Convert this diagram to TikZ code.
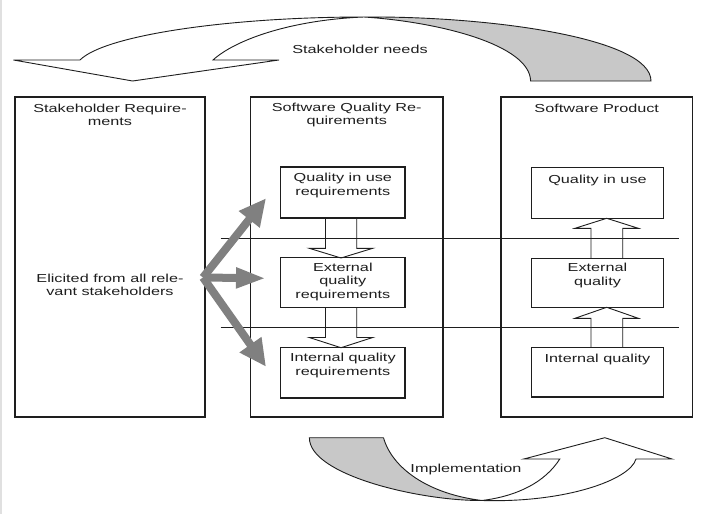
\documentclass[tikz,border=0pt]{standalone}
\usepackage{fontspec}
\setmainfont{Liberation Sans}[FakeStretch=1.4]
\usetikzlibrary{arrows.meta}
\definecolor{fangray}{RGB}{128,128,128}
\definecolor{ribbongray}{RGB}{200,200,200}
\definecolor{ink}{RGB}{30,30,30}
\begin{document}
\begin{tikzpicture}[x=1pt,y=-1pt,
  box/.style={draw=ink,line width=1.1pt,inner sep=0pt,outer sep=0pt},
  lbl/.style={font=\fontsize{11.6}{13.5}\selectfont,align=center,inner sep=0pt,text=ink},
  hollow/.style={draw=ink,line width=0.9pt,line join=miter},
  sepline/.style={draw=ink,line width=0.9pt},
  ribbon/.style={draw=ink,line width=0.9pt,line join=miter},
  fanline/.style={draw=fangray,line width=8pt,line cap=butt}]
\fill[white] (0,0) rectangle (705,514);
\useasboundingbox (0,0) rectangle (705,514);
\draw[black!12,line width=1.5pt] (1.2,0) -- (1.2,514);

% main columns
\node[box,minimum width=190pt,minimum height=320pt] (sr) at (110,257) {};
\node[box,minimum width=192.5pt,minimum height=320pt] (sq) at (346.75,257) {};
\node[box,minimum width=191.5pt,minimum height=320pt] (sp) at (596.75,257) {};

% inner boxes, middle column
\node[box,minimum width=124.3pt,minimum height=51pt] (qiur) at (342.85,192.5) {};
\node[box,minimum width=124.3pt,minimum height=50pt] (eqr) at (342.85,282.7) {};
\node[box,minimum width=124.3pt,minimum height=50.3pt] (iqr) at (342.85,372.85) {};
% inner boxes, right column
\node[box,minimum width=131.6pt,minimum height=51pt] (qiu) at (597.5,192.8) {};
\node[box,minimum width=131.6pt,minimum height=49pt] (eq) at (597.5,282.8) {};
\node[box,minimum width=131.6pt,minimum height=49.3pt] (iq) at (597.5,372.35) {};

% separator lines
\coordinate (s1a) at (220.7,238.3); \coordinate (s1b) at (679,238.3);
\coordinate (s2a) at (220.7,327.3); \coordinate (s2b) at (679,327.3);
\draw[sepline] (s1a) -- (s1b);
\draw[sepline] (s2a) -- (s2b);

% hollow arrows, middle column (downwards)
\draw[hollow] (325.5,218) -- (325.5,248.3) -- (309.3,248.3) -- (341,258) -- (372.7,248.3) -- (356.7,248.3) -- (356.7,218);
\draw[hollow] (325.5,307.7) -- (325.5,337.5) -- (309.3,337.5) -- (341,347.7) -- (372.7,337.5) -- (356.7,337.5) -- (356.7,307.7);
% hollow arrows, right column (upwards)
\draw[hollow] (591,258.3) -- (591,228.3) -- (575,228.3) -- (606.7,218.3) -- (638.3,228.3) -- (622.7,228.3) -- (622.7,258.3);
\draw[hollow] (591,347.7) -- (591,318.3) -- (575,318.3) -- (606.7,307.3) -- (638.3,318.3) -- (622.7,318.3) -- (622.7,347.7);

% top ribbon arrow (Stakeholder needs)
\coordinate (M) at (364,17);
\fill[ribbongray] (M) .. controls (490,16) and (651,38) .. (651,81) -- (530.6,81) .. controls (530,45) and (440,22) .. (M) -- cycle;
\draw[ribbon] (651,81) .. controls (651,38) and (490,16) .. (M) .. controls (230,17) and (105,35) .. (80,60) -- (13.5,60) -- (132.6,81) -- (279,60) -- (213,60) .. controls (235,40) and (290,20) .. (M) .. controls (440,22) and (530,45) .. (530.6,81) -- cycle;

% bottom ribbon arrow (Implementation)
\coordinate (Q) at (482,500.5);
\fill[ribbongray] (309.4,437.7) -- (383.5,437.7) .. controls (392,468) and (428,494) .. (Q) .. controls (420,501) and (309,475) .. (309.4,437.7) -- cycle;
\draw[ribbon] (383.5,437.7) -- (309.4,437.7) .. controls (309,475) and (420,501) .. (Q) .. controls (565,503) and (630,480) .. (636,459) -- (672,459) -- (604.8,437.7) -- (523.8,459) -- (559.8,459) .. controls (545,482) and (518,496) .. (Q) .. controls (428,494) and (392,468) .. (383.5,437.7);

% gray fan arrows
\coordinate (fanO) at (203,277.5);
\coordinate (t1) at (266,198.3);
\coordinate (t2) at (266,278.3);
\coordinate (t3) at (266,366.7);
\draw[fanline,-{Triangle[length=27pt,width=25pt]}] (fanO) -- (t1);
\draw[fanline,-{Triangle[length=30pt,width=19pt]}] (fanO) -- (t2);
\draw[fanline,-{Triangle[length=27pt,width=25pt]}] (fanO) -- (t3);

% labels
\node[lbl] (srt) at (110,115) {Stakeholder Require-\\ments};
\node[lbl] (sqt) at (346.75,115) {Software Quality Re-\\quirements};
\node[lbl] (spt) at (596.75,108) {Software Product};
\node[lbl] (elt) at (110,285) {Elicited from all rele-\\vant stakeholders};
\node[lbl] (qiurt) at (342.85,185.5) {Quality in use\\requirements};
\node[lbl] (eqrt) at (342.85,281.5) {External\\quality\\requirements};
\node[lbl] (iqrt) at (342.85,365.5) {Internal quality\\requirements};
\node[lbl] (qiut) at (597.5,180) {Quality in use};
\node[lbl] (eqt) at (597.5,275.5) {External\\quality};
\node[lbl] (iqt) at (597.5,359.5) {Internal quality};
\node[lbl] (snt) at (360,49) {Stakeholder needs};
\node[lbl] (imt) at (466,469.5) {Implementation};
\end{tikzpicture}
\end{document}
